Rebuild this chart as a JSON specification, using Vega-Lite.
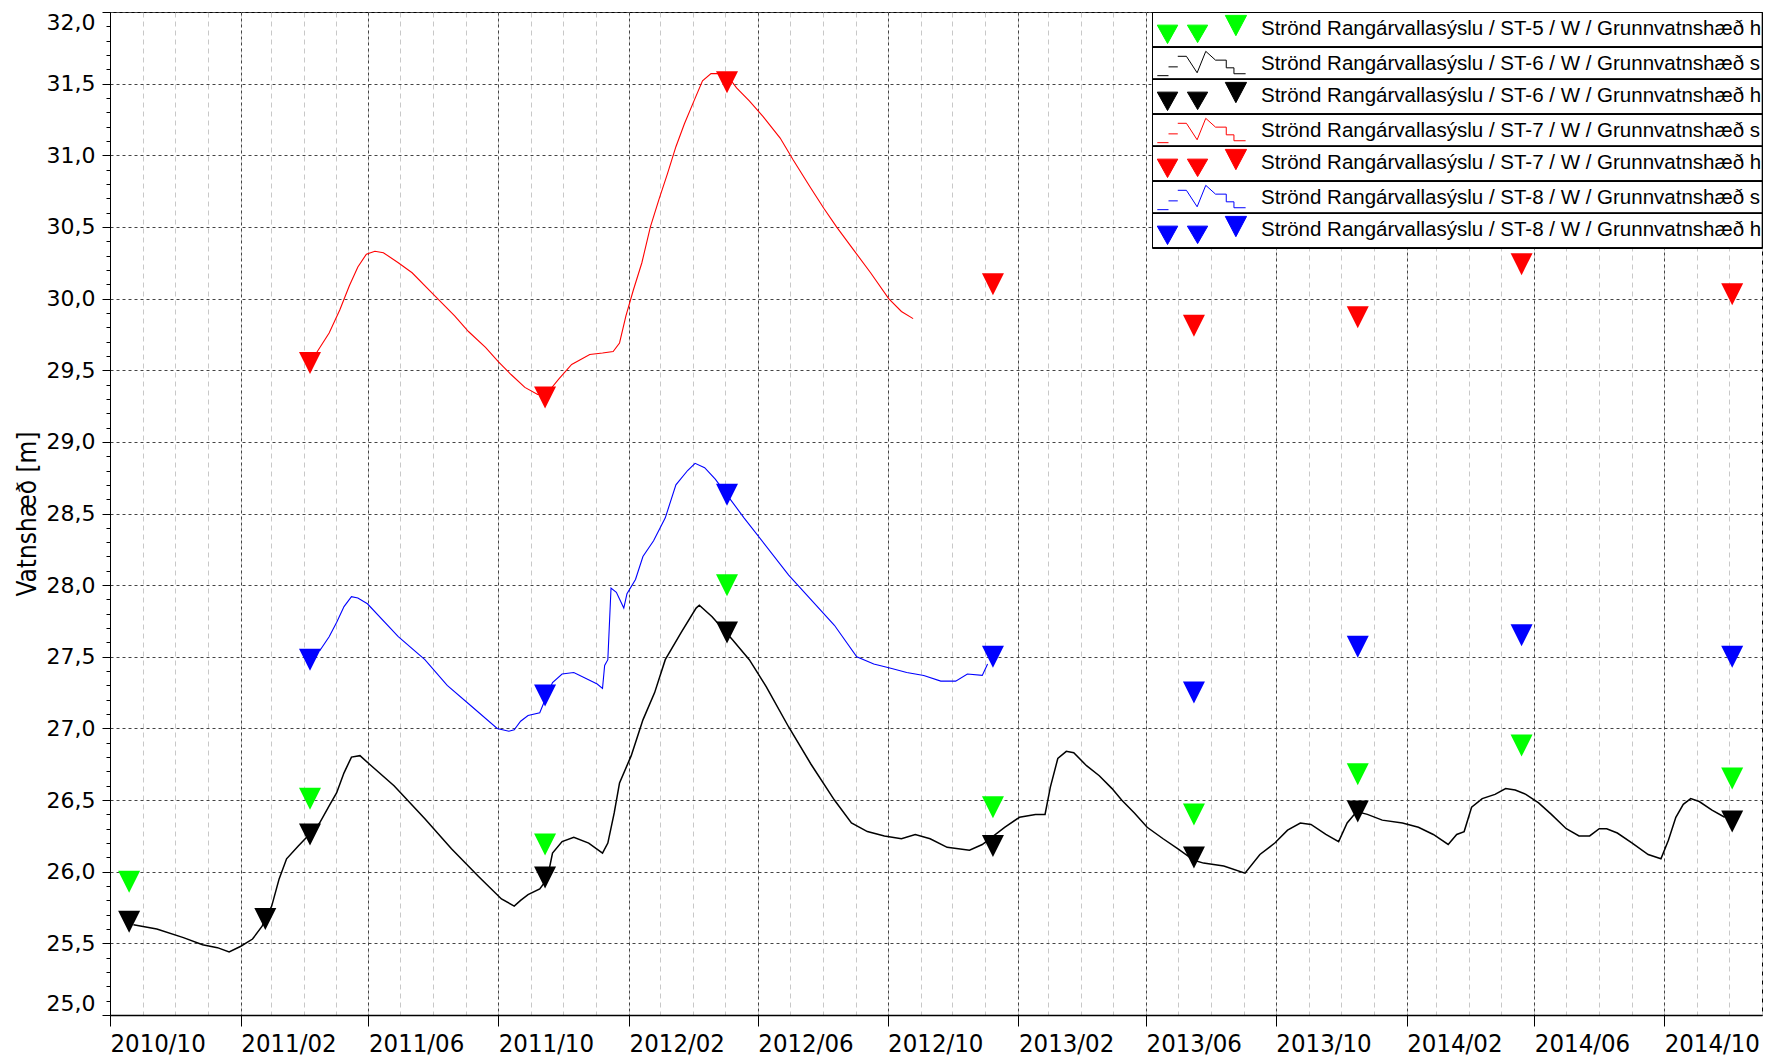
{
"$schema": "https://vega.github.io/schema/vega-lite/v6.json",
"width": 1652, "height": 1003,
"autosize": {"type": "none"},
"padding": {"left": 110, "top": 12, "right": 5, "bottom": 41},
"background": "white",
"config": {"view": {"stroke": "#000", "strokeWidth": 1}},
"datasets": {
"lines": [
{"series":"Strönd Rangárvallasýslu / ST-6 / W / Grunnvatnshæð s","date":"2010-10-23","value":25.63},
{"series":"Strönd Rangárvallasýslu / ST-6 / W / Grunnvatnshæð s","date":"2010-11-14","value":25.60},
{"series":"Strönd Rangárvallasýslu / ST-6 / W / Grunnvatnshæð s","date":"2010-12-09","value":25.54},
{"series":"Strönd Rangárvallasýslu / ST-6 / W / Grunnvatnshæð s","date":"2010-12-27","value":25.49},
{"series":"Strönd Rangárvallasýslu / ST-6 / W / Grunnvatnshæð s","date":"2011-01-10","value":25.47},
{"series":"Strönd Rangárvallasýslu / ST-6 / W / Grunnvatnshæð s","date":"2011-01-21","value":25.44},
{"series":"Strönd Rangárvallasýslu / ST-6 / W / Grunnvatnshæð s","date":"2011-02-01","value":25.48},
{"series":"Strönd Rangárvallasýslu / ST-6 / W / Grunnvatnshæð s","date":"2011-02-12","value":25.53},
{"series":"Strönd Rangárvallasýslu / ST-6 / W / Grunnvatnshæð s","date":"2011-02-21","value":25.62},
{"series":"Strönd Rangárvallasýslu / ST-6 / W / Grunnvatnshæð s","date":"2011-03-02","value":25.76},
{"series":"Strönd Rangárvallasýslu / ST-6 / W / Grunnvatnshæð s","date":"2011-03-09","value":25.95},
{"series":"Strönd Rangárvallasýslu / ST-6 / W / Grunnvatnshæð s","date":"2011-03-16","value":26.09},
{"series":"Strönd Rangárvallasýslu / ST-6 / W / Grunnvatnshæð s","date":"2011-03-27","value":26.18},
{"series":"Strönd Rangárvallasýslu / ST-6 / W / Grunnvatnshæð s","date":"2011-04-05","value":26.25},
{"series":"Strönd Rangárvallasýslu / ST-6 / W / Grunnvatnshæð s","date":"2011-04-16","value":26.34},
{"series":"Strönd Rangárvallasýslu / ST-6 / W / Grunnvatnshæð s","date":"2011-04-25","value":26.46},
{"series":"Strönd Rangárvallasýslu / ST-6 / W / Grunnvatnshæð s","date":"2011-05-02","value":26.55},
{"series":"Strönd Rangárvallasýslu / ST-6 / W / Grunnvatnshæð s","date":"2011-05-09","value":26.69},
{"series":"Strönd Rangárvallasýslu / ST-6 / W / Grunnvatnshæð s","date":"2011-05-16","value":26.80},
{"series":"Strönd Rangárvallasýslu / ST-6 / W / Grunnvatnshæð s","date":"2011-05-24","value":26.81},
{"series":"Strönd Rangárvallasýslu / ST-6 / W / Grunnvatnshæð s","date":"2011-06-02","value":26.75},
{"series":"Strönd Rangárvallasýslu / ST-6 / W / Grunnvatnshæð s","date":"2011-06-25","value":26.60},
{"series":"Strönd Rangárvallasýslu / ST-6 / W / Grunnvatnshæð s","date":"2011-07-24","value":26.37},
{"series":"Strönd Rangárvallasýslu / ST-6 / W / Grunnvatnshæð s","date":"2011-08-18","value":26.16},
{"series":"Strönd Rangárvallasýslu / ST-6 / W / Grunnvatnshæð s","date":"2011-09-12","value":25.97},
{"series":"Strönd Rangárvallasýslu / ST-6 / W / Grunnvatnshæð s","date":"2011-10-04","value":25.81},
{"series":"Strönd Rangárvallasýslu / ST-6 / W / Grunnvatnshæð s","date":"2011-10-16","value":25.76},
{"series":"Strönd Rangárvallasýslu / ST-6 / W / Grunnvatnshæð s","date":"2011-10-22","value":25.80},
{"series":"Strönd Rangárvallasýslu / ST-6 / W / Grunnvatnshæð s","date":"2011-10-29","value":25.84},
{"series":"Strönd Rangárvallasýslu / ST-6 / W / Grunnvatnshæð s","date":"2011-11-09","value":25.88},
{"series":"Strönd Rangárvallasýslu / ST-6 / W / Grunnvatnshæð s","date":"2011-11-16","value":25.95},
{"series":"Strönd Rangárvallasýslu / ST-6 / W / Grunnvatnshæð s","date":"2011-11-21","value":26.13},
{"series":"Strönd Rangárvallasýslu / ST-6 / W / Grunnvatnshæð s","date":"2011-11-30","value":26.21},
{"series":"Strönd Rangárvallasýslu / ST-6 / W / Grunnvatnshæð s","date":"2011-12-11","value":26.24},
{"series":"Strönd Rangárvallasýslu / ST-6 / W / Grunnvatnshæð s","date":"2011-12-25","value":26.20},
{"series":"Strönd Rangárvallasýslu / ST-6 / W / Grunnvatnshæð s","date":"2012-01-07","value":26.13},
{"series":"Strönd Rangárvallasýslu / ST-6 / W / Grunnvatnshæð s","date":"2012-01-12","value":26.20},
{"series":"Strönd Rangárvallasýslu / ST-6 / W / Grunnvatnshæð s","date":"2012-01-18","value":26.41},
{"series":"Strönd Rangárvallasýslu / ST-6 / W / Grunnvatnshæð s","date":"2012-01-23","value":26.62},
{"series":"Strönd Rangárvallasýslu / ST-6 / W / Grunnvatnshæð s","date":"2012-02-03","value":26.81},
{"series":"Strönd Rangárvallasýslu / ST-6 / W / Grunnvatnshæð s","date":"2012-02-14","value":27.06},
{"series":"Strönd Rangárvallasýslu / ST-6 / W / Grunnvatnshæð s","date":"2012-02-25","value":27.25},
{"series":"Strönd Rangárvallasýslu / ST-6 / W / Grunnvatnshæð s","date":"2012-03-06","value":27.48},
{"series":"Strönd Rangárvallasýslu / ST-6 / W / Grunnvatnshæð s","date":"2012-03-21","value":27.67},
{"series":"Strönd Rangárvallasýslu / ST-6 / W / Grunnvatnshæð s","date":"2012-04-04","value":27.84},
{"series":"Strönd Rangárvallasýslu / ST-6 / W / Grunnvatnshæð s","date":"2012-04-07","value":27.86},
{"series":"Strönd Rangárvallasýslu / ST-6 / W / Grunnvatnshæð s","date":"2012-04-19","value":27.78},
{"series":"Strönd Rangárvallasýslu / ST-6 / W / Grunnvatnshæð s","date":"2012-05-08","value":27.62},
{"series":"Strönd Rangárvallasýslu / ST-6 / W / Grunnvatnshæð s","date":"2012-05-24","value":27.48},
{"series":"Strönd Rangárvallasýslu / ST-6 / W / Grunnvatnshæð s","date":"2012-06-09","value":27.29},
{"series":"Strönd Rangárvallasýslu / ST-6 / W / Grunnvatnshæð s","date":"2012-06-30","value":27.01},
{"series":"Strönd Rangárvallasýslu / ST-6 / W / Grunnvatnshæð s","date":"2012-07-21","value":26.75},
{"series":"Strönd Rangárvallasýslu / ST-6 / W / Grunnvatnshæð s","date":"2012-08-12","value":26.50},
{"series":"Strönd Rangárvallasýslu / ST-6 / W / Grunnvatnshæð s","date":"2012-08-28","value":26.34},
{"series":"Strönd Rangárvallasýslu / ST-6 / W / Grunnvatnshæð s","date":"2012-09-12","value":26.28},
{"series":"Strönd Rangárvallasýslu / ST-6 / W / Grunnvatnshæð s","date":"2012-09-28","value":26.25},
{"series":"Strönd Rangárvallasýslu / ST-6 / W / Grunnvatnshæð s","date":"2012-10-14","value":26.23},
{"series":"Strönd Rangárvallasýslu / ST-6 / W / Grunnvatnshæð s","date":"2012-10-27","value":26.26},
{"series":"Strönd Rangárvallasýslu / ST-6 / W / Grunnvatnshæð s","date":"2012-11-10","value":26.23},
{"series":"Strönd Rangárvallasýslu / ST-6 / W / Grunnvatnshæð s","date":"2012-11-26","value":26.17},
{"series":"Strönd Rangárvallasýslu / ST-6 / W / Grunnvatnshæð s","date":"2012-12-17","value":26.15},
{"series":"Strönd Rangárvallasýslu / ST-6 / W / Grunnvatnshæð s","date":"2012-12-29","value":26.19},
{"series":"Strönd Rangárvallasýslu / ST-6 / W / Grunnvatnshæð s","date":"2013-01-19","value":26.31},
{"series":"Strönd Rangárvallasýslu / ST-6 / W / Grunnvatnshæð s","date":"2013-02-02","value":26.38},
{"series":"Strönd Rangárvallasýslu / ST-6 / W / Grunnvatnshæð s","date":"2013-02-17","value":26.40},
{"series":"Strönd Rangárvallasýslu / ST-6 / W / Grunnvatnshæð s","date":"2013-02-26","value":26.40},
{"series":"Strönd Rangárvallasýslu / ST-6 / W / Grunnvatnshæð s","date":"2013-03-03","value":26.59},
{"series":"Strönd Rangárvallasýslu / ST-6 / W / Grunnvatnshæð s","date":"2013-03-10","value":26.79},
{"series":"Strönd Rangárvallasýslu / ST-6 / W / Grunnvatnshæð s","date":"2013-03-18","value":26.84},
{"series":"Strönd Rangárvallasýslu / ST-6 / W / Grunnvatnshæð s","date":"2013-03-25","value":26.83},
{"series":"Strönd Rangárvallasýslu / ST-6 / W / Grunnvatnshæð s","date":"2013-04-06","value":26.74},
{"series":"Strönd Rangárvallasýslu / ST-6 / W / Grunnvatnshæð s","date":"2013-04-18","value":26.67},
{"series":"Strönd Rangárvallasýslu / ST-6 / W / Grunnvatnshæð s","date":"2013-04-30","value":26.58},
{"series":"Strönd Rangárvallasýslu / ST-6 / W / Grunnvatnshæð s","date":"2013-05-09","value":26.50},
{"series":"Strönd Rangárvallasýslu / ST-6 / W / Grunnvatnshæð s","date":"2013-05-21","value":26.41},
{"series":"Strönd Rangárvallasýslu / ST-6 / W / Grunnvatnshæð s","date":"2013-06-02","value":26.31},
{"series":"Strönd Rangárvallasýslu / ST-6 / W / Grunnvatnshæð s","date":"2013-06-17","value":26.23},
{"series":"Strönd Rangárvallasýslu / ST-6 / W / Grunnvatnshæð s","date":"2013-07-01","value":26.16},
{"series":"Strönd Rangárvallasýslu / ST-6 / W / Grunnvatnshæð s","date":"2013-07-16","value":26.08},
{"series":"Strönd Rangárvallasýslu / ST-6 / W / Grunnvatnshæð s","date":"2013-07-25","value":26.06},
{"series":"Strönd Rangárvallasýslu / ST-6 / W / Grunnvatnshæð s","date":"2013-08-13","value":26.04},
{"series":"Strönd Rangárvallasýslu / ST-6 / W / Grunnvatnshæð s","date":"2013-09-02","value":25.99},
{"series":"Strönd Rangárvallasýslu / ST-6 / W / Grunnvatnshæð s","date":"2013-09-16","value":26.12},
{"series":"Strönd Rangárvallasýslu / ST-6 / W / Grunnvatnshæð s","date":"2013-09-30","value":26.20},
{"series":"Strönd Rangárvallasýslu / ST-6 / W / Grunnvatnshæð s","date":"2013-10-12","value":26.29},
{"series":"Strönd Rangárvallasýslu / ST-6 / W / Grunnvatnshæð s","date":"2013-10-24","value":26.34},
{"series":"Strönd Rangárvallasýslu / ST-6 / W / Grunnvatnshæð s","date":"2013-11-03","value":26.33},
{"series":"Strönd Rangárvallasýslu / ST-6 / W / Grunnvatnshæð s","date":"2013-11-17","value":26.26},
{"series":"Strönd Rangárvallasýslu / ST-6 / W / Grunnvatnshæð s","date":"2013-11-29","value":26.21},
{"series":"Strönd Rangárvallasýslu / ST-6 / W / Grunnvatnshæð s","date":"2013-12-07","value":26.34},
{"series":"Strönd Rangárvallasýslu / ST-6 / W / Grunnvatnshæð s","date":"2013-12-16","value":26.42},
{"series":"Strönd Rangárvallasýslu / ST-6 / W / Grunnvatnshæð s","date":"2013-12-26","value":26.40},
{"series":"Strönd Rangárvallasýslu / ST-6 / W / Grunnvatnshæð s","date":"2014-01-09","value":26.36},
{"series":"Strönd Rangárvallasýslu / ST-6 / W / Grunnvatnshæð s","date":"2014-01-28","value":26.34},
{"series":"Strönd Rangárvallasýslu / ST-6 / W / Grunnvatnshæð s","date":"2014-02-12","value":26.31},
{"series":"Strönd Rangárvallasýslu / ST-6 / W / Grunnvatnshæð s","date":"2014-02-26","value":26.26},
{"series":"Strönd Rangárvallasýslu / ST-6 / W / Grunnvatnshæð s","date":"2014-03-12","value":26.19},
{"series":"Strönd Rangárvallasýslu / ST-6 / W / Grunnvatnshæð s","date":"2014-03-20","value":26.26},
{"series":"Strönd Rangárvallasýslu / ST-6 / W / Grunnvatnshæð s","date":"2014-03-27","value":26.28},
{"series":"Strönd Rangárvallasýslu / ST-6 / W / Grunnvatnshæð s","date":"2014-04-03","value":26.45},
{"series":"Strönd Rangárvallasýslu / ST-6 / W / Grunnvatnshæð s","date":"2014-04-13","value":26.51},
{"series":"Strönd Rangárvallasýslu / ST-6 / W / Grunnvatnshæð s","date":"2014-04-25","value":26.54},
{"series":"Strönd Rangárvallasýslu / ST-6 / W / Grunnvatnshæð s","date":"2014-05-05","value":26.58},
{"series":"Strönd Rangárvallasýslu / ST-6 / W / Grunnvatnshæð s","date":"2014-05-14","value":26.57},
{"series":"Strönd Rangárvallasýslu / ST-6 / W / Grunnvatnshæð s","date":"2014-05-24","value":26.54},
{"series":"Strönd Rangárvallasýslu / ST-6 / W / Grunnvatnshæð s","date":"2014-06-05","value":26.48},
{"series":"Strönd Rangárvallasýslu / ST-6 / W / Grunnvatnshæð s","date":"2014-06-17","value":26.40},
{"series":"Strönd Rangárvallasýslu / ST-6 / W / Grunnvatnshæð s","date":"2014-07-01","value":26.30},
{"series":"Strönd Rangárvallasýslu / ST-6 / W / Grunnvatnshæð s","date":"2014-07-13","value":26.25},
{"series":"Strönd Rangárvallasýslu / ST-6 / W / Grunnvatnshæð s","date":"2014-07-23","value":26.25},
{"series":"Strönd Rangárvallasýslu / ST-6 / W / Grunnvatnshæð s","date":"2014-08-01","value":26.30},
{"series":"Strönd Rangárvallasýslu / ST-6 / W / Grunnvatnshæð s","date":"2014-08-08","value":26.30},
{"series":"Strönd Rangárvallasýslu / ST-6 / W / Grunnvatnshæð s","date":"2014-08-18","value":26.27},
{"series":"Strönd Rangárvallasýslu / ST-6 / W / Grunnvatnshæð s","date":"2014-09-01","value":26.20},
{"series":"Strönd Rangárvallasýslu / ST-6 / W / Grunnvatnshæð s","date":"2014-09-16","value":26.12},
{"series":"Strönd Rangárvallasýslu / ST-6 / W / Grunnvatnshæð s","date":"2014-09-28","value":26.09},
{"series":"Strönd Rangárvallasýslu / ST-6 / W / Grunnvatnshæð s","date":"2014-10-05","value":26.22},
{"series":"Strönd Rangárvallasýslu / ST-6 / W / Grunnvatnshæð s","date":"2014-10-12","value":26.38},
{"series":"Strönd Rangárvallasýslu / ST-6 / W / Grunnvatnshæð s","date":"2014-10-19","value":26.47},
{"series":"Strönd Rangárvallasýslu / ST-6 / W / Grunnvatnshæð s","date":"2014-10-26","value":26.51},
{"series":"Strönd Rangárvallasýslu / ST-6 / W / Grunnvatnshæð s","date":"2014-11-03","value":26.49},
{"series":"Strönd Rangárvallasýslu / ST-6 / W / Grunnvatnshæð s","date":"2014-11-15","value":26.43},
{"series":"Strönd Rangárvallasýslu / ST-6 / W / Grunnvatnshæð s","date":"2014-11-27","value":26.38},
{"series":"Strönd Rangárvallasýslu / ST-7 / W / Grunnvatnshæð s","date":"2011-04-13","value":29.62},
{"series":"Strönd Rangárvallasýslu / ST-7 / W / Grunnvatnshæð s","date":"2011-04-25","value":29.76},
{"series":"Strönd Rangárvallasýslu / ST-7 / W / Grunnvatnshæð s","date":"2011-05-05","value":29.92},
{"series":"Strönd Rangárvallasýslu / ST-7 / W / Grunnvatnshæð s","date":"2011-05-14","value":30.09},
{"series":"Strönd Rangárvallasýslu / ST-7 / W / Grunnvatnshæð s","date":"2011-05-22","value":30.22},
{"series":"Strönd Rangárvallasýslu / ST-7 / W / Grunnvatnshæð s","date":"2011-05-30","value":30.31},
{"series":"Strönd Rangárvallasýslu / ST-7 / W / Grunnvatnshæð s","date":"2011-06-07","value":30.33},
{"series":"Strönd Rangárvallasýslu / ST-7 / W / Grunnvatnshæð s","date":"2011-06-15","value":30.32},
{"series":"Strönd Rangárvallasýslu / ST-7 / W / Grunnvatnshæð s","date":"2011-06-29","value":30.25},
{"series":"Strönd Rangárvallasýslu / ST-7 / W / Grunnvatnshæð s","date":"2011-07-12","value":30.18},
{"series":"Strönd Rangárvallasýslu / ST-7 / W / Grunnvatnshæð s","date":"2011-08-01","value":30.03},
{"series":"Strönd Rangárvallasýslu / ST-7 / W / Grunnvatnshæð s","date":"2011-08-21","value":29.88},
{"series":"Strönd Rangárvallasýslu / ST-7 / W / Grunnvatnshæð s","date":"2011-09-03","value":29.77},
{"series":"Strönd Rangárvallasýslu / ST-7 / W / Grunnvatnshæð s","date":"2011-09-19","value":29.66},
{"series":"Strönd Rangárvallasýslu / ST-7 / W / Grunnvatnshæð s","date":"2011-10-01","value":29.56},
{"series":"Strönd Rangárvallasýslu / ST-7 / W / Grunnvatnshæð s","date":"2011-10-13","value":29.47},
{"series":"Strönd Rangárvallasýslu / ST-7 / W / Grunnvatnshæð s","date":"2011-10-26","value":29.38},
{"series":"Strönd Rangárvallasýslu / ST-7 / W / Grunnvatnshæð s","date":"2011-11-07","value":29.33},
{"series":"Strönd Rangárvallasýslu / ST-7 / W / Grunnvatnshæð s","date":"2011-11-15","value":29.33},
{"series":"Strönd Rangárvallasýslu / ST-7 / W / Grunnvatnshæð s","date":"2011-11-27","value":29.44},
{"series":"Strönd Rangárvallasýslu / ST-7 / W / Grunnvatnshæð s","date":"2011-12-09","value":29.54},
{"series":"Strönd Rangárvallasýslu / ST-7 / W / Grunnvatnshæð s","date":"2011-12-26","value":29.61},
{"series":"Strönd Rangárvallasýslu / ST-7 / W / Grunnvatnshæð s","date":"2012-01-07","value":29.62},
{"series":"Strönd Rangárvallasýslu / ST-7 / W / Grunnvatnshæð s","date":"2012-01-17","value":29.63},
{"series":"Strönd Rangárvallasýslu / ST-7 / W / Grunnvatnshæð s","date":"2012-01-23","value":29.69},
{"series":"Strönd Rangárvallasýslu / ST-7 / W / Grunnvatnshæð s","date":"2012-01-29","value":29.88},
{"series":"Strönd Rangárvallasýslu / ST-7 / W / Grunnvatnshæð s","date":"2012-02-05","value":30.06},
{"series":"Strönd Rangárvallasýslu / ST-7 / W / Grunnvatnshæð s","date":"2012-02-13","value":30.25},
{"series":"Strönd Rangárvallasýslu / ST-7 / W / Grunnvatnshæð s","date":"2012-02-21","value":30.50},
{"series":"Strönd Rangárvallasýslu / ST-7 / W / Grunnvatnshæð s","date":"2012-02-29","value":30.69},
{"series":"Strönd Rangárvallasýslu / ST-7 / W / Grunnvatnshæð s","date":"2012-03-08","value":30.87},
{"series":"Strönd Rangárvallasýslu / ST-7 / W / Grunnvatnshæð s","date":"2012-03-16","value":31.06},
{"series":"Strönd Rangárvallasýslu / ST-7 / W / Grunnvatnshæð s","date":"2012-03-24","value":31.22},
{"series":"Strönd Rangárvallasýslu / ST-7 / W / Grunnvatnshæð s","date":"2012-04-02","value":31.38},
{"series":"Strönd Rangárvallasýslu / ST-7 / W / Grunnvatnshæð s","date":"2012-04-10","value":31.52},
{"series":"Strönd Rangárvallasýslu / ST-7 / W / Grunnvatnshæð s","date":"2012-04-18","value":31.57},
{"series":"Strönd Rangárvallasýslu / ST-7 / W / Grunnvatnshæð s","date":"2012-04-26","value":31.57},
{"series":"Strönd Rangárvallasýslu / ST-7 / W / Grunnvatnshæð s","date":"2012-05-04","value":31.55},
{"series":"Strönd Rangárvallasýslu / ST-7 / W / Grunnvatnshæð s","date":"2012-05-12","value":31.47},
{"series":"Strönd Rangárvallasýslu / ST-7 / W / Grunnvatnshæð s","date":"2012-05-24","value":31.38},
{"series":"Strönd Rangárvallasýslu / ST-7 / W / Grunnvatnshæð s","date":"2012-06-06","value":31.27},
{"series":"Strönd Rangárvallasýslu / ST-7 / W / Grunnvatnshæð s","date":"2012-06-22","value":31.12},
{"series":"Strönd Rangárvallasýslu / ST-7 / W / Grunnvatnshæð s","date":"2012-07-04","value":30.97},
{"series":"Strönd Rangárvallasýslu / ST-7 / W / Grunnvatnshæð s","date":"2012-07-20","value":30.78},
{"series":"Strönd Rangárvallasýslu / ST-7 / W / Grunnvatnshæð s","date":"2012-08-02","value":30.63},
{"series":"Strönd Rangárvallasýslu / ST-7 / W / Grunnvatnshæð s","date":"2012-08-14","value":30.50},
{"series":"Strönd Rangárvallasýslu / ST-7 / W / Grunnvatnshæð s","date":"2012-08-30","value":30.34},
{"series":"Strönd Rangárvallasýslu / ST-7 / W / Grunnvatnshæð s","date":"2012-09-15","value":30.18},
{"series":"Strönd Rangárvallasýslu / ST-7 / W / Grunnvatnshæð s","date":"2012-10-02","value":30.00},
{"series":"Strönd Rangárvallasýslu / ST-7 / W / Grunnvatnshæð s","date":"2012-10-14","value":29.91},
{"series":"Strönd Rangárvallasýslu / ST-7 / W / Grunnvatnshæð s","date":"2012-10-25","value":29.86},
{"series":"Strönd Rangárvallasýslu / ST-8 / W / Grunnvatnshæð s","date":"2011-04-16","value":27.54},
{"series":"Strönd Rangárvallasýslu / ST-8 / W / Grunnvatnshæð s","date":"2011-04-25","value":27.64},
{"series":"Strönd Rangárvallasýslu / ST-8 / W / Grunnvatnshæð s","date":"2011-05-02","value":27.74},
{"series":"Strönd Rangárvallasýslu / ST-8 / W / Grunnvatnshæð s","date":"2011-05-09","value":27.85},
{"series":"Strönd Rangárvallasýslu / ST-8 / W / Grunnvatnshæð s","date":"2011-05-16","value":27.92},
{"series":"Strönd Rangárvallasýslu / ST-8 / W / Grunnvatnshæð s","date":"2011-05-22","value":27.91},
{"series":"Strönd Rangárvallasýslu / ST-8 / W / Grunnvatnshæð s","date":"2011-05-31","value":27.87},
{"series":"Strönd Rangárvallasýslu / ST-8 / W / Grunnvatnshæð s","date":"2011-06-29","value":27.64},
{"series":"Strönd Rangárvallasýslu / ST-8 / W / Grunnvatnshæð s","date":"2011-07-24","value":27.48},
{"series":"Strönd Rangárvallasýslu / ST-8 / W / Grunnvatnshæð s","date":"2011-08-14","value":27.30},
{"series":"Strönd Rangárvallasýslu / ST-8 / W / Grunnvatnshæð s","date":"2011-09-05","value":27.16},
{"series":"Strönd Rangárvallasýslu / ST-8 / W / Grunnvatnshæð s","date":"2011-09-30","value":27.00},
{"series":"Strönd Rangárvallasýslu / ST-8 / W / Grunnvatnshæð s","date":"2011-10-11","value":26.98},
{"series":"Strönd Rangárvallasýslu / ST-8 / W / Grunnvatnshæð s","date":"2011-10-16","value":26.99},
{"series":"Strönd Rangárvallasýslu / ST-8 / W / Grunnvatnshæð s","date":"2011-10-22","value":27.05},
{"series":"Strönd Rangárvallasýslu / ST-8 / W / Grunnvatnshæð s","date":"2011-10-29","value":27.09},
{"series":"Strönd Rangárvallasýslu / ST-8 / W / Grunnvatnshæð s","date":"2011-11-09","value":27.11},
{"series":"Strönd Rangárvallasýslu / ST-8 / W / Grunnvatnshæð s","date":"2011-11-14","value":27.20},
{"series":"Strönd Rangárvallasýslu / ST-8 / W / Grunnvatnshæð s","date":"2011-11-21","value":27.32},
{"series":"Strönd Rangárvallasýslu / ST-8 / W / Grunnvatnshæð s","date":"2011-11-30","value":27.38},
{"series":"Strönd Rangárvallasýslu / ST-8 / W / Grunnvatnshæð s","date":"2011-12-11","value":27.39},
{"series":"Strönd Rangárvallasýslu / ST-8 / W / Grunnvatnshæð s","date":"2011-12-22","value":27.35},
{"series":"Strönd Rangárvallasýslu / ST-8 / W / Grunnvatnshæð s","date":"2012-01-02","value":27.31},
{"series":"Strönd Rangárvallasýslu / ST-8 / W / Grunnvatnshæð s","date":"2012-01-07","value":27.28},
{"series":"Strönd Rangárvallasýslu / ST-8 / W / Grunnvatnshæð s","date":"2012-01-09","value":27.44},
{"series":"Strönd Rangárvallasýslu / ST-8 / W / Grunnvatnshæð s","date":"2012-01-12","value":27.48},
{"series":"Strönd Rangárvallasýslu / ST-8 / W / Grunnvatnshæð s","date":"2012-01-15","value":27.98},
{"series":"Strönd Rangárvallasýslu / ST-8 / W / Grunnvatnshæð s","date":"2012-01-20","value":27.95},
{"series":"Strönd Rangárvallasýslu / ST-8 / W / Grunnvatnshæð s","date":"2012-01-27","value":27.84},
{"series":"Strönd Rangárvallasýslu / ST-8 / W / Grunnvatnshæð s","date":"2012-01-30","value":27.94},
{"series":"Strönd Rangárvallasýslu / ST-8 / W / Grunnvatnshæð s","date":"2012-02-07","value":28.04},
{"series":"Strönd Rangárvallasýslu / ST-8 / W / Grunnvatnshæð s","date":"2012-02-14","value":28.20},
{"series":"Strönd Rangárvallasýslu / ST-8 / W / Grunnvatnshæð s","date":"2012-02-24","value":28.31},
{"series":"Strönd Rangárvallasýslu / ST-8 / W / Grunnvatnshæð s","date":"2012-03-06","value":28.47},
{"series":"Strönd Rangárvallasýslu / ST-8 / W / Grunnvatnshæð s","date":"2012-03-16","value":28.70},
{"series":"Strönd Rangárvallasýslu / ST-8 / W / Grunnvatnshæð s","date":"2012-03-27","value":28.80},
{"series":"Strönd Rangárvallasýslu / ST-8 / W / Grunnvatnshæð s","date":"2012-04-03","value":28.85},
{"series":"Strönd Rangárvallasýslu / ST-8 / W / Grunnvatnshæð s","date":"2012-04-12","value":28.82},
{"series":"Strönd Rangárvallasýslu / ST-8 / W / Grunnvatnshæð s","date":"2012-04-22","value":28.74},
{"series":"Strönd Rangárvallasýslu / ST-8 / W / Grunnvatnshæð s","date":"2012-05-03","value":28.63},
{"series":"Strönd Rangárvallasýslu / ST-8 / W / Grunnvatnshæð s","date":"2012-05-19","value":28.47},
{"series":"Strönd Rangárvallasýslu / ST-8 / W / Grunnvatnshæð s","date":"2012-06-30","value":28.07},
{"series":"Strönd Rangárvallasýslu / ST-8 / W / Grunnvatnshæð s","date":"2012-08-12","value":27.72},
{"series":"Strönd Rangárvallasýslu / ST-8 / W / Grunnvatnshæð s","date":"2012-09-02","value":27.50},
{"series":"Strönd Rangárvallasýslu / ST-8 / W / Grunnvatnshæð s","date":"2012-09-18","value":27.45},
{"series":"Strönd Rangárvallasýslu / ST-8 / W / Grunnvatnshæð s","date":"2012-10-04","value":27.42},
{"series":"Strönd Rangárvallasýslu / ST-8 / W / Grunnvatnshæð s","date":"2012-10-19","value":27.39},
{"series":"Strönd Rangárvallasýslu / ST-8 / W / Grunnvatnshæð s","date":"2012-11-04","value":27.37},
{"series":"Strönd Rangárvallasýslu / ST-8 / W / Grunnvatnshæð s","date":"2012-11-20","value":27.33},
{"series":"Strönd Rangárvallasýslu / ST-8 / W / Grunnvatnshæð s","date":"2012-12-04","value":27.33},
{"series":"Strönd Rangárvallasýslu / ST-8 / W / Grunnvatnshæð s","date":"2012-12-15","value":27.38},
{"series":"Strönd Rangárvallasýslu / ST-8 / W / Grunnvatnshæð s","date":"2012-12-29","value":27.37},
{"series":"Strönd Rangárvallasýslu / ST-8 / W / Grunnvatnshæð s","date":"2013-01-03","value":27.45}
],
"points": [
{"series":"Strönd Rangárvallasýslu / ST-5 / W / Grunnvatnshæð h","date":"2010-10-19","value":25.93},
{"series":"Strönd Rangárvallasýslu / ST-5 / W / Grunnvatnshæð h","date":"2011-04-07","value":26.51},
{"series":"Strönd Rangárvallasýslu / ST-5 / W / Grunnvatnshæð h","date":"2011-11-14","value":26.19},
{"series":"Strönd Rangárvallasýslu / ST-5 / W / Grunnvatnshæð h","date":"2012-05-03","value":28.00},
{"series":"Strönd Rangárvallasýslu / ST-5 / W / Grunnvatnshæð h","date":"2013-01-08","value":26.45},
{"series":"Strönd Rangárvallasýslu / ST-5 / W / Grunnvatnshæð h","date":"2013-07-16","value":26.40},
{"series":"Strönd Rangárvallasýslu / ST-5 / W / Grunnvatnshæð h","date":"2013-12-17","value":26.68},
{"series":"Strönd Rangárvallasýslu / ST-5 / W / Grunnvatnshæð h","date":"2014-05-20","value":26.88},
{"series":"Strönd Rangárvallasýslu / ST-5 / W / Grunnvatnshæð h","date":"2014-12-04","value":26.65},
{"series":"Strönd Rangárvallasýslu / ST-6 / W / Grunnvatnshæð h","date":"2010-10-19","value":25.65},
{"series":"Strönd Rangárvallasýslu / ST-6 / W / Grunnvatnshæð h","date":"2011-02-24","value":25.67},
{"series":"Strönd Rangárvallasýslu / ST-6 / W / Grunnvatnshæð h","date":"2011-04-07","value":26.26},
{"series":"Strönd Rangárvallasýslu / ST-6 / W / Grunnvatnshæð h","date":"2011-11-14","value":25.96},
{"series":"Strönd Rangárvallasýslu / ST-6 / W / Grunnvatnshæð h","date":"2012-05-03","value":27.67},
{"series":"Strönd Rangárvallasýslu / ST-6 / W / Grunnvatnshæð h","date":"2013-01-08","value":26.18},
{"series":"Strönd Rangárvallasýslu / ST-6 / W / Grunnvatnshæð h","date":"2013-07-16","value":26.10},
{"series":"Strönd Rangárvallasýslu / ST-6 / W / Grunnvatnshæð h","date":"2013-12-17","value":26.42},
{"series":"Strönd Rangárvallasýslu / ST-6 / W / Grunnvatnshæð h","date":"2014-12-04","value":26.35},
{"series":"Strönd Rangárvallasýslu / ST-7 / W / Grunnvatnshæð h","date":"2011-04-07","value":29.55},
{"series":"Strönd Rangárvallasýslu / ST-7 / W / Grunnvatnshæð h","date":"2011-11-14","value":29.31},
{"series":"Strönd Rangárvallasýslu / ST-7 / W / Grunnvatnshæð h","date":"2012-05-03","value":31.51},
{"series":"Strönd Rangárvallasýslu / ST-7 / W / Grunnvatnshæð h","date":"2013-01-08","value":30.10},
{"series":"Strönd Rangárvallasýslu / ST-7 / W / Grunnvatnshæð h","date":"2013-07-16","value":29.81},
{"series":"Strönd Rangárvallasýslu / ST-7 / W / Grunnvatnshæð h","date":"2013-12-17","value":29.87},
{"series":"Strönd Rangárvallasýslu / ST-7 / W / Grunnvatnshæð h","date":"2014-05-20","value":30.24},
{"series":"Strönd Rangárvallasýslu / ST-7 / W / Grunnvatnshæð h","date":"2014-12-04","value":30.03},
{"series":"Strönd Rangárvallasýslu / ST-8 / W / Grunnvatnshæð h","date":"2011-04-07","value":27.48},
{"series":"Strönd Rangárvallasýslu / ST-8 / W / Grunnvatnshæð h","date":"2011-11-14","value":27.23},
{"series":"Strönd Rangárvallasýslu / ST-8 / W / Grunnvatnshæð h","date":"2012-05-03","value":28.63},
{"series":"Strönd Rangárvallasýslu / ST-8 / W / Grunnvatnshæð h","date":"2013-01-08","value":27.50},
{"series":"Strönd Rangárvallasýslu / ST-8 / W / Grunnvatnshæð h","date":"2013-07-16","value":27.25},
{"series":"Strönd Rangárvallasýslu / ST-8 / W / Grunnvatnshæð h","date":"2013-12-17","value":27.57},
{"series":"Strönd Rangárvallasýslu / ST-8 / W / Grunnvatnshæð h","date":"2014-05-20","value":27.65},
{"series":"Strönd Rangárvallasýslu / ST-8 / W / Grunnvatnshæð h","date":"2014-12-04","value":27.50}
]
},
"resolve": {"axis": {"x": "independent", "y": "independent"}},
"layer": [
{
"data": {"name": "lines"},
"mark": {"type": "line"},
"encoding": {
"x": {"field": "date", "type": "temporal",
 "scale": {"type": "utc", "nice": false, "domain": [{"year": 2010, "month": 10, "date": 1, "utc": true}, {"year": 2015, "month": 1, "date": 1, "utc": true}]},
 "axis": {"orient": "bottom", "title": null, "tickCount": {"interval": "month", "step": 1}, "labels": false, "ticks": false, "domain": false, "grid": true, "gridColor": "#c8c8c8", "gridDash": [5, 4], "gridWidth": 1}},
"y": {"field": "value", "type": "quantitative",
 "scale": {"domain": [25, 32], "nice": false, "zero": false},
 "axis": {"orient": "left", "title": null, "tickCount": 70, "labels": false, "grid": false, "domain": false, "ticks": true, "tickSize": 4, "tickColor": "#000"}},
"strokeWidth": {"condition": {"test": "indexof(datum.series, 'ST-6') >= 0", "value": 1.5}, "value": 1.1},
"color": {"field": "series", "type": "nominal",
 "scale": {"domain": ["Strönd Rangárvallasýslu / ST-5 / W / Grunnvatnshæð h", "Strönd Rangárvallasýslu / ST-6 / W / Grunnvatnshæð s", "Strönd Rangárvallasýslu / ST-6 / W / Grunnvatnshæð h", "Strönd Rangárvallasýslu / ST-7 / W / Grunnvatnshæð s", "Strönd Rangárvallasýslu / ST-7 / W / Grunnvatnshæð h", "Strönd Rangárvallasýslu / ST-8 / W / Grunnvatnshæð s", "Strönd Rangárvallasýslu / ST-8 / W / Grunnvatnshæð h"],
  "range": ["#00ff00", "#000000", "#000000", "#ff0000", "#ff0000", "#0000ff", "#0000ff"]},
 "legend": {"title": null, "orient": "top-right", "offset": 0, "padding": 0, "rowPadding": 0, "symbolSize": 1024, "symbolOffset": 0, "labelOffset": 76, "labelFont": "Liberation Sans", "labelFontSize": 20.5, "labelColor": "#000", "labelLimit": 0, "fillColor": "#ffffff", "strokeColor": "#000000",
  "encode": {
   "symbols": {"enter": {"fillOpacity": {"signal": "test(/ h$/, datum.value) ? 1 : 0"}}, "update": {
     "shape": {"signal": "test(/ h$/, datum.value) ? 'M-0.7,-0.21L0.58,-0.21L-0.06,0.94ZM1.18,-0.21L2.45,-0.21L1.82,0.88ZM3.55,-0.82L4.88,-0.82L4.21,0.45Z' : 'M-0.7,0.76L0,0.76M0,0.21L0.58,0.21M0.58,-0.45L1.12,-0.45L1.79,0.58L2.33,-0.76L2.94,-0.21L3.61,-0.21L3.61,0.27L4.09,0.27L4.09,0.64L4.82,0.64'"},
     "fill": {"signal": "test(/ h$/, datum.value) ? scale('color', datum.value) : 'transparent'"},
     "fillOpacity": {"signal": "test(/ h$/, datum.value) ? 1 : 0"},
     "stroke": {"signal": "test(/ h$/, datum.value) ? 'transparent' : scale('color', datum.value)"},
     "strokeWidth": {"value": 1},
     "opacity": {"value": 1}}},
   "entries": {"enter": {"stroke": {"value": "#000"}, "strokeWidth": {"value": 1}, "width": {"value": 613}, "height": {"value": 33}}, "update": {"stroke": {"value": "#000"}, "strokeWidth": {"value": 1}, "width": {"value": 613}, "height": {"value": 33}}}
  }}}
}
},
{
"data": {"name": "points"},
"mark": {"type": "point", "shape": "M-1,-1L1,-1L0,1Z", "filled": true, "size": 484, "opacity": 1, "strokeWidth": 0},
"encoding": {
"x": {"field": "date", "type": "temporal",
 "axis": {"orient": "bottom", "title": null, "format": "%Y/%m",
  "values": [{"year": 2010, "month": 10, "date": 1, "utc": true}, {"year": 2011, "month": 2, "date": 1, "utc": true}, {"year": 2011, "month": 6, "date": 1, "utc": true}, {"year": 2011, "month": 10, "date": 1, "utc": true}, {"year": 2012, "month": 2, "date": 1, "utc": true}, {"year": 2012, "month": 6, "date": 1, "utc": true}, {"year": 2012, "month": 10, "date": 1, "utc": true}, {"year": 2013, "month": 2, "date": 1, "utc": true}, {"year": 2013, "month": 6, "date": 1, "utc": true}, {"year": 2013, "month": 10, "date": 1, "utc": true}, {"year": 2014, "month": 2, "date": 1, "utc": true}, {"year": 2014, "month": 6, "date": 1, "utc": true}, {"year": 2014, "month": 10, "date": 1, "utc": true}],
  "labelAlign": "left", "labelBaseline": "top", "labelPadding": 5, "labelFont": "DejaVu Sans Condensed", "labelFontSize": 25.5, "labelColor": "#000", "labelOverlap": false, "labelFlush": false,
  "tickSize": 11, "tickColor": "#000", "tickWidth": 1, "domainColor": "#000", "domainWidth": 1.5,
  "grid": true, "gridColor": "#444", "gridDash": [3, 3], "gridWidth": 1}},
"y": {"field": "value", "type": "quantitative",
 "axis": {"orient": "left", "title": "Vatnshæð [m]", "titleFont": "DejaVu Sans Condensed", "titleFontSize": 26, "titleFontWeight": "normal", "titleColor": "#000", "titlePadding": 6,
  "values": [25, 25.5, 26, 26.5, 27, 27.5, 28, 28.5, 29, 29.5, 30, 30.5, 31, 31.5, 32],
  "labelExpr": "replace(format(datum.value, '.1f'), '.', ',')", "labelFont": "DejaVu Sans", "labelFontSize": 22, "labelColor": "#000", "labelPadding": 7, "labelFlush": true,
  "tickSize": 8, "tickColor": "#000", "domainColor": "#000", "domainWidth": 1,
  "grid": true, "gridColor": "#444", "gridDash": [3, 3], "gridWidth": 1}},
"color": {"field": "series", "type": "nominal",
 "legend": {"title": null, "orient": "top-right", "offset": 0, "padding": 0, "rowPadding": 0, "symbolSize": 1024, "symbolOffset": 0, "labelOffset": 76, "labelFont": "Liberation Sans", "labelFontSize": 20.5, "labelColor": "#000", "labelLimit": 0, "fillColor": "#ffffff", "strokeColor": "#000000",
  "encode": {
   "symbols": {"enter": {"fillOpacity": {"signal": "test(/ h$/, datum.value) ? 1 : 0"}}, "update": {
     "shape": {"signal": "test(/ h$/, datum.value) ? 'M-0.7,-0.21L0.58,-0.21L-0.06,0.94ZM1.18,-0.21L2.45,-0.21L1.82,0.88ZM3.55,-0.82L4.88,-0.82L4.21,0.45Z' : 'M-0.7,0.76L0,0.76M0,0.21L0.58,0.21M0.58,-0.45L1.12,-0.45L1.79,0.58L2.33,-0.76L2.94,-0.21L3.61,-0.21L3.61,0.27L4.09,0.27L4.09,0.64L4.82,0.64'"},
     "fill": {"signal": "test(/ h$/, datum.value) ? scale('color', datum.value) : 'transparent'"},
     "fillOpacity": {"signal": "test(/ h$/, datum.value) ? 1 : 0"},
     "stroke": {"signal": "test(/ h$/, datum.value) ? 'transparent' : scale('color', datum.value)"},
     "strokeWidth": {"value": 1},
     "opacity": {"value": 1}}},
   "entries": {"enter": {"stroke": {"value": "#000"}, "strokeWidth": {"value": 1}, "width": {"value": 613}, "height": {"value": 33}}, "update": {"stroke": {"value": "#000"}, "strokeWidth": {"value": 1}, "width": {"value": 613}, "height": {"value": 33}}}
  }}}
}
}
]
}
